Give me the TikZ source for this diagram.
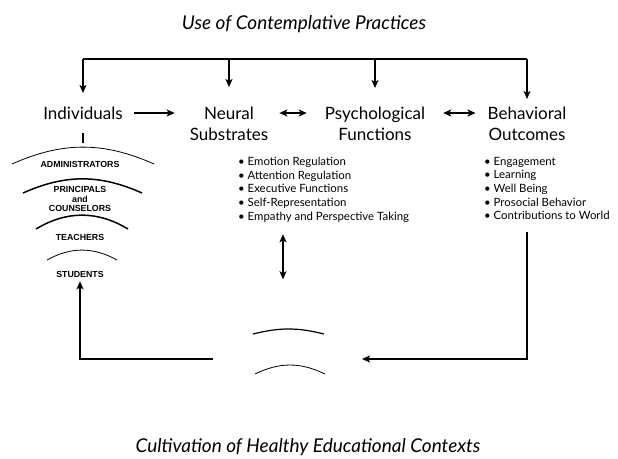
\documentclass[tikz,border=0pt]{standalone}
\usepackage{fontspec}
\setmainfont{Lato}
\newfontfamily\grpfont{Liberation Sans}
\usetikzlibrary{arrows.meta}

\begin{document}
\begin{tikzpicture}
        [
          x=1pt, y=-1pt,
          >={Stealth[length=8pt,width=7pt,inset=2pt]},
          flow/.style={draw, line width=1.6pt},
          box/.style={inner sep=0pt, align=center, anchor=base, font=\fontsize{17}{21}\selectfont},
          heading/.style={inner sep=0pt, font=\fontsize{19}{22}\selectfont\itshape},
          items/.style={inner sep=0pt, align=left, anchor=north west, font=\fontsize{11.4}{13.6}\selectfont},
          group/.style={inner sep=0pt, align=center, font=\grpfont\bfseries\fontsize{8.8}{9.5}\selectfont},
          ring/.style={draw, line width=0.8pt},
          thickring/.style={draw, line width=1.5pt}
        ]

        \useasboundingbox (0,0) rectangle (618,458);

        % headings
        \node[heading] (use) at (304,24) {Use of Contemplative Practices};
        \node[heading] (ctx) at (308,447) {Cultivation of Healthy Educational Contexts};

        % main row (base = last line)
        \node[box] (ind) at (83,119) {Individuals};
        \node[box] (neur) at (229,140) {Neural\\Substrates};
        \node[box] (psych) at (375,140) {Psychological\\Functions};
        \node[box] (behav) at (527,140) {Behavioral\\Outcomes};

        \node[items] (emo) at (238,157) {\textbullet\ Emotion Regulation\\
          \textbullet\ Attention Regulation\\
          \textbullet\ Executive Functions\\
          \textbullet\ Self-Representation\\
          \textbullet\ Empathy and Perspective Taking};
        \node[items] (eng) at (484,157) {\textbullet\ Engagement\\
          \textbullet\ Learning\\
          \textbullet\ Well Being\\
          \textbullet\ Prosocial Behavior\\
          \textbullet\ Contributions to World};

        % levels of the school
        \node[group] (admin) at (80,164) {ADMINISTRATORS};
        \node[group] (princ) at (80,199) {PRINCIPALS\\and\\COUNSELORS};
        \node[group] (teach) at (80,237) {TEACHERS};
        \node[group] (stud) at (80,274) {STUDENTS};

        \draw[ring] (12,164) to[bend left=24] (154,164);
        \draw[thickring] (23,193) to[bend left=24] (142,193);
        \draw[thickring] (36,229) to[bend left=31] (128,229);
        \draw[ring] (47,260) to[bend left=29] (117,260);

        % context
        \draw[line width=1.2pt] (253,334) to[bend left=14] (324,334);
        \draw[ring] (255,374) to[bend left=26] (325,374);

        % connectors
        \coordinate (bus) at (0,59);
        \coordinate (row) at (0,113);
        \coordinate (gapL) at (213,359);
        \coordinate (gapR) at (362,359);

        \draw[flow] (bus -| ind) -- (bus -| behav);
        \foreach \n/\len in {ind/34, neur/28, psych/29, behav/40}
          \draw[flow,->] (bus -| \n) -- ++(0,\len);

        \draw[flow,->,shorten <=11pt,shorten >=15pt] (row -| ind.east) -- (row -| neur.west);
        \draw[flow,<->,shorten <=11pt,shorten >=18pt] (row -| neur.east) -- (row -| psych.west);
        \draw[flow,<->,shorten <=18pt,shorten >=12pt] (row -| psych.east) -- (row -| behav.west);

        \draw[flow] (ind.south) ++(0,14) -- ++(0,10);
        \draw[flow,<->] ([xshift=45pt,yshift=-12pt]emo.south west) -- ++(0,45);
        \draw[flow,->] (eng.south west -| behav) ++(0,12) |- (gapR);
        \draw[flow,->,shorten >=4pt] (gapL) -| (stud.south);
\end{tikzpicture}
\end{document}
